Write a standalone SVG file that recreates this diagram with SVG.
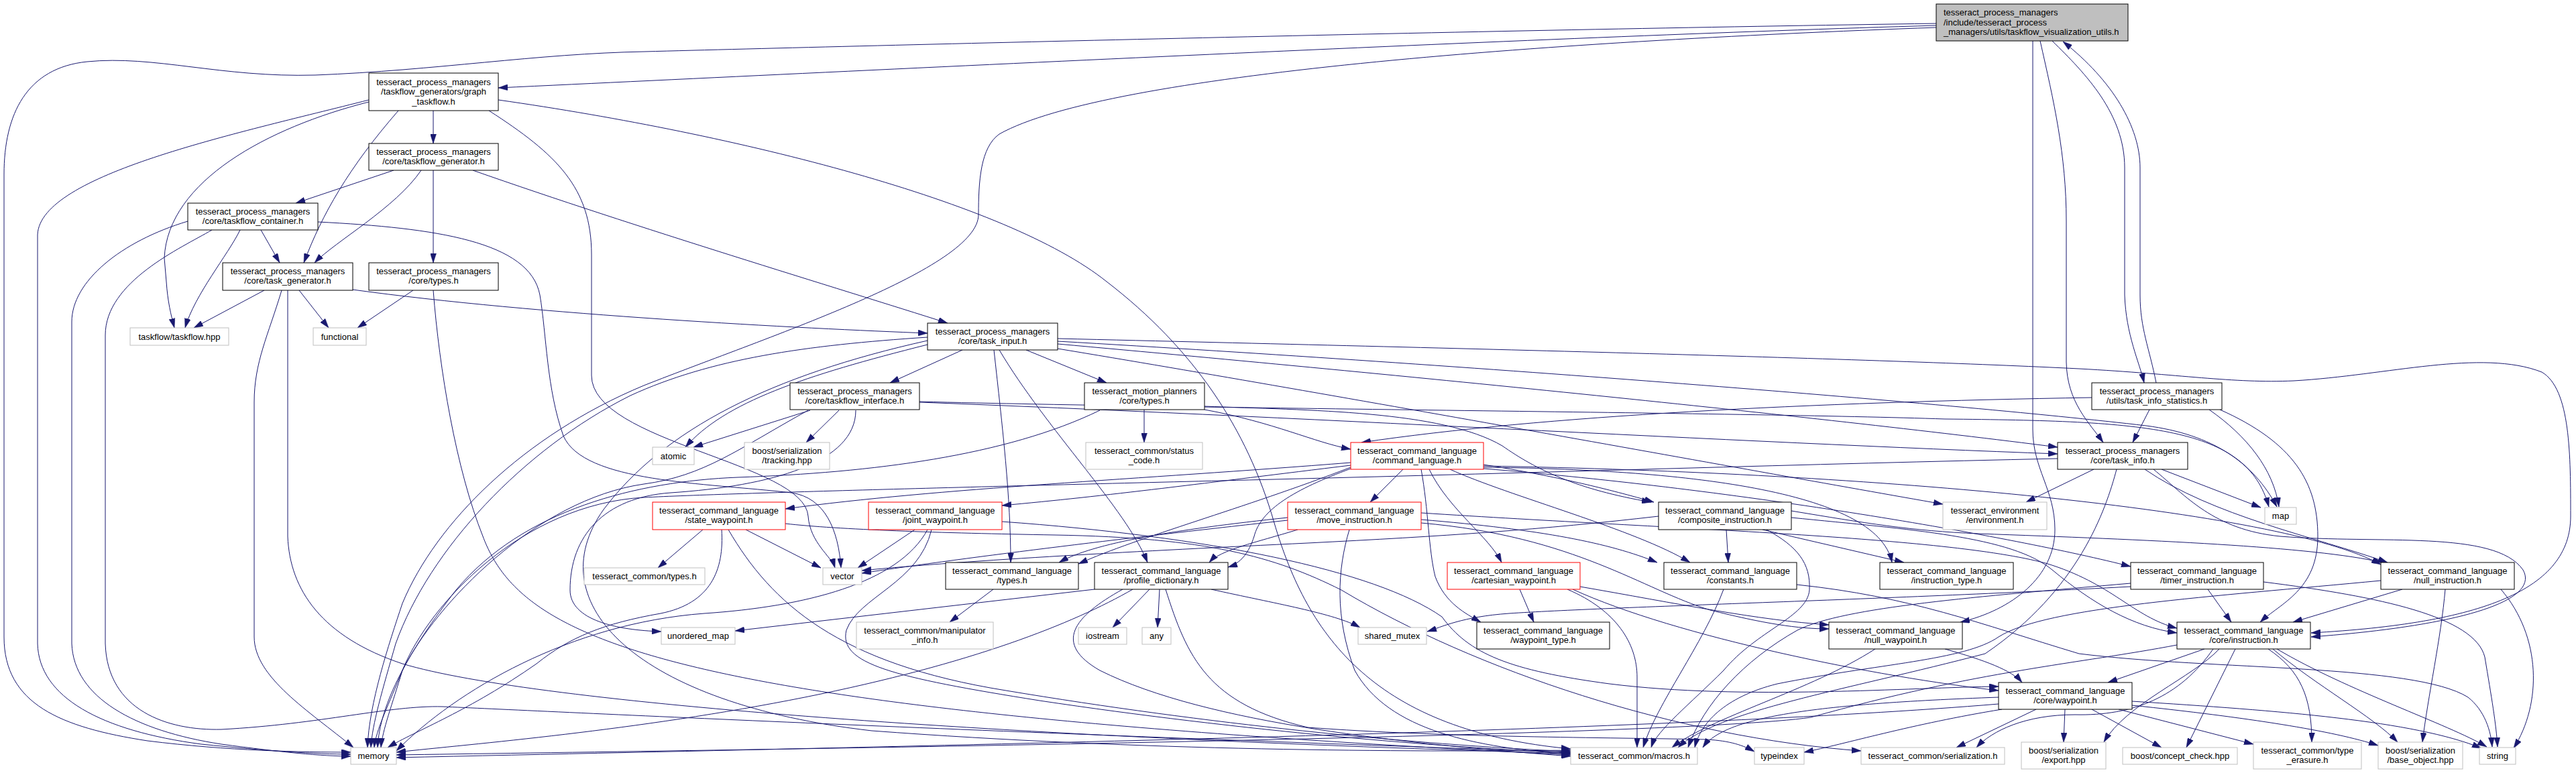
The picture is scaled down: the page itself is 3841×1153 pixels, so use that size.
<svg xmlns="http://www.w3.org/2000/svg" width="3841" height="1153" viewBox="0 0 3841 1153">
<defs>
<style>
.nd rect{fill:#fff;stroke:#000;stroke-width:1}
.ext rect{stroke:#bfbfbf}
.trunc rect{stroke:#ff0000}
.root rect{fill:#bfbfbf;stroke:#000}
text{font-family:"Liberation Sans",Arial,Helvetica,sans-serif;font-size:13px;fill:#000;text-anchor:middle}
.root text{text-anchor:start}
#edges path{fill:none;stroke:#191970;stroke-width:1;marker-end:url(#ah)}
</style>
<marker id="ah" viewBox="0 0 14 9" refX="14" refY="4.5" markerWidth="14" markerHeight="9" markerUnits="userSpaceOnUse" orient="auto"><path d="M0,0L14,4.5L0,9z" fill="#191970" stroke="#191970" stroke-width="0.5"/></marker>
</defs>
<rect x="0" y="0" width="3841" height="1153" fill="#fff"/>
<g id="edges">
<path d="M2887,38 C2300,55 1300,105 743,131"/>
<path d="M2887,35 C2200,45 1300,68 961,77 C800,80 650,105 470,112 C330,116 230,82 130,92 C40,101 6,170 6,260 L6,950 C6,1050 90,1085 220,1105 C340,1120 450,1122 523,1122"/>
<path d="M2887,41 C2300,62 1650,110 1490,200 C1462,220 1459,270 1459,320 C1459,400 1150,500 960,575 C780,650 650,780 600,900 C580,960 550,1050 548,1115"/>
<path d="M3031,61 L3031,640 C3031,700 3064,730 3064,790 C3064,860 3000,910 2923,928"/>
<path d="M3042,61 C3062,150 3081,230 3081,330 L3081,540 C3082,600 3115,630 3136,660"/>
<path d="M3060,61 C3110,110 3168,170 3168,250 L3168,440 C3170,500 3190,540 3197,571"/>
<path d="M3215,571 C3205,520 3191,490 3191,440 L3191,250 C3191,190 3150,120 3076,62"/>
<path d="M646,165 L646,214"/>
<path d="M594,165 C520,250 480,320 453,392"/>
<path d="M550,152 C400,190 250,270 245,385 L248,420 C250,450 255,470 260,489"/>
<path d="M550,149 C350,200 60,260 56,350 L56,960 C58,1040 150,1090 300,1110 C400,1120 470,1125 523,1125"/>
<path d="M743,149 C1100,200 1500,300 1650,420 C1780,520 1860,640 1900,780 C1950,950 2050,1090 2342,1117"/>
<path d="M729,165 C830,230 882,280 882,380 L882,560 C882,660 1200,690 1205,770 C1208,810 1240,830 1245,847"/>
<path d="M587,254 L441,303"/>
<path d="M628,254 C590,310 500,360 469,392"/>
<path d="M646,254 L646,392"/>
<path d="M705,254 C950,340 1250,430 1413,482"/>
<path d="M389,343 L417,392"/>
<path d="M358,343 C340,380 290,440 276,489"/>
<path d="M280,330 C180,360 107,420 107,480 L107,960 C110,1040 200,1090 330,1110 C420,1122 480,1128 523,1128"/>
<path d="M316,343 C270,370 157,420 157,500 L157,960 C160,1060 250,1090 330,1088 C480,1080 580,1052 660,1054 C800,1060 1400,1090 2342,1122"/>
<path d="M474,331 C650,340 790,360 805,440 C815,500 815,580 840,650 C870,720 1050,720 1180,735 C1230,742 1250,790 1254,847"/>
<path d="M394,433 L289,489"/>
<path d="M446,433 L490,489"/>
<path d="M526,432 C800,470 1200,490 1383,497"/>
<path d="M420,433 C400,500 379,540 379,600 L379,950 C379,1010 460,1060 527,1115"/>
<path d="M429,433 L429,800 C432,880 480,950 600,990 C800,1050 1500,1100 2342,1124"/>
<path d="M616,433 L533,489"/>
<path d="M646,433 C655,550 680,700 720,800 C780,960 1000,1060 2342,1126"/>
<path d="M1435,522 L1327,571"/>
<path d="M1530,522 L1650,571"/>
<path d="M1482,522 C1495,640 1507,740 1507,839"/>
<path d="M1490,522 C1560,640 1680,760 1711,839"/>
<path d="M1383,514 C1200,560 1080,600 1022,667"/>
<path d="M1383,503 C1200,515 1060,535 940,590 C780,670 640,820 590,960 C570,1030 555,1080 553,1115"/>
<path d="M1383,508 C1150,560 990,640 900,760 C800,900 950,1050 1300,1090 C1700,1120 2100,1122 2342,1119"/>
<path d="M1577,505 C2200,520 2800,535 3100,550 C3250,558 3330,572 3420,568 C3560,560 3700,520 3790,555 C3833,580 3833,680 3833,770 C3833,880 3700,930 3446,944"/>
<path d="M1577,509 C2200,545 2900,600 3200,635 C3300,648 3360,690 3395,756"/>
<path d="M1577,513 C2100,560 2700,620 3068,667"/>
<path d="M1577,520 C2000,590 2600,700 2897,752"/>
<path d="M1208,612 L1034,667"/>
<path d="M1251,612 L1202,660"/>
<path d="M1205,612 C1100,670 1050,710 960,722 C800,745 650,900 600,1000 C580,1050 560,1090 558,1115"/>
<path d="M1276,612 C1276,690 1150,725 1000,735 C900,742 850,800 850,880 C850,925 920,940 986,942"/>
<path d="M1371,600 C1900,620 2600,660 3068,677"/>
<path d="M1371,599 C1800,610 2600,615 2900,625 C3200,628 3350,635 3383,756"/>
<path d="M1706,611 L1706,660"/>
<path d="M1796,611 C1900,630 1960,660 2014,670"/>
<path d="M1796,606 C1950,612 2150,612 2240,665 C2290,700 2350,730 2462,749"/>
<path d="M1640,612 C1500,680 1300,705 1100,712 C950,718 780,760 680,880 C610,970 566,1050 563,1115"/>
<path d="M2014,690 C1700,715 1400,728 1171,759"/>
<path d="M2014,694 C1800,720 1650,740 1494,754"/>
<path d="M2092,700 L2043,749"/>
<path d="M2212,693 C2320,710 2400,730 2466,749"/>
<path d="M2131,700 C2160,760 2220,800 2239,839"/>
<path d="M2162,700 C2250,740 2440,790 2520,839"/>
<path d="M2119,700 C2130,760 2130,820 2140,860 C2155,900 2185,915 2208,928"/>
<path d="M2212,697 C2500,700 2800,730 2821,839"/>
<path d="M2212,695 C2800,705 3400,760 3550,842"/>
<path d="M2212,699 C2600,730 3000,800 3177,845"/>
<path d="M2014,697 C1850,760 1700,800 1608,841"/>
<path d="M2014,699 C1930,730 1880,760 1870,800 C1862,825 1850,840 1831,846"/>
<path d="M1048,790 L981,847"/>
<path d="M1112,790 L1224,847"/>
<path d="M1076,790 C1080,850 1060,900 985,915 C900,930 850,950 800,990 C700,1060 620,1090 578,1115"/>
<path d="M1086,790 C1150,900 1250,990 1500,1030 C1800,1080 2100,1110 2342,1121"/>
<path d="M1171,781 C1250,790 1400,795 1573,798 C1800,802 1900,830 2000,880 C2200,1000 2500,1100 2775,1120"/>
<path d="M1364,790 L1279,847"/>
<path d="M1383,790 C1340,870 1200,905 1050,915 C850,930 680,1030 591,1120"/>
<path d="M1389,790 C1370,870 1280,890 1262,940 C1250,990 1330,1010 1550,1045 C1850,1090 2150,1115 2342,1123"/>
<path d="M1494,778 C1800,800 2050,850 2150,920 C2190,975 2250,1000 2400,1020 C2600,1045 2850,1025 2980,1024"/>
<path d="M2119,775 C2300,790 2400,810 2471,839"/>
<path d="M2119,780 C2350,800 2450,880 2550,910 C2630,930 2680,938 2727,938"/>
<path d="M1920,772 C1750,790 1630,810 1579,839"/>
<path d="M1935,790 C1870,810 1820,820 1803,839"/>
<path d="M1920,776 C1700,800 1450,830 1285,855"/>
<path d="M2012,790 C1994,850 1990,920 2020,1000 C2070,1090 2200,1115 2342,1125"/>
<path d="M2119,765 C2500,790 2900,800 3050,840 C3150,870 3180,920 3246,937"/>
<path d="M2574,790 L2577,839"/>
<path d="M2628,790 L2839,839"/>
<path d="M2473,770 C2300,790 2150,800 1950,810 C1700,822 1450,835 1285,851"/>
<path d="M2634,790 C2680,815 2700,840 2698,880 C2695,920 2620,940 2570,1000 C2520,1050 2470,1090 2462,1115"/>
<path d="M2671,772 C2850,790 3000,800 3060,850 C3120,900 3180,935 3246,944"/>
<path d="M2671,762 C2780,780 2850,792 2950,796 C3200,805 3450,815 3552,839"/>
<path d="M2266,879 L2287,928"/>
<path d="M2337,879 C2410,910 2441,960 2441,1010 L2441,1115"/>
<path d="M2356,875 C2500,900 2620,925 2727,932"/>
<path d="M2345,879 C2500,950 2800,1010 2980,1030"/>
<path d="M2570,879 C2540,960 2470,1050 2450,1115"/>
<path d="M2679,872 C2850,890 2950,930 3100,975 C3300,1000 3600,990 3680,1040 C3705,1060 3714,1090 3716,1114"/>
<path d="M2900,968 C2960,985 3000,1000 3015,1018"/>
<path d="M2796,968 C2700,1030 2550,1070 2493,1115"/>
<path d="M3292,879 L3327,928"/>
<path d="M3177,870 C2950,890 2750,905 2680,940 C2600,985 2540,1050 2517,1115"/>
<path d="M3375,868 C3550,890 3690,920 3705,980 C3715,1040 3722,1080 3724,1114"/>
<path d="M3177,875 C2800,895 2400,905 2250,915 C2180,920 2150,935 2128,942"/>
<path d="M3582,879 L3419,928"/>
<path d="M3646,879 C3640,950 3620,1040 3612,1107"/>
<path d="M3729,879 C3790,950 3790,1050 3748,1116"/>
<path d="M3550,866 C3300,890 3050,905 2980,950 C2930,985 2800,990 2650,1020 C2570,1040 2535,1080 2527,1115"/>
<path d="M3287,968 L3143,1018"/>
<path d="M3309,968 C3270,1010 3170,1050 3137,1107"/>
<path d="M3333,968 L3260,1115"/>
<path d="M3382,968 C3430,1000 3447,1040 3447,1107"/>
<path d="M3389,968 C3450,1020 3540,1070 3575,1107"/>
<path d="M3395,968 C3500,1030 3650,1080 3708,1114"/>
<path d="M3300,968 C3250,1040 3180,1068 3094,1066 C3020,1066 2970,1090 2947,1115"/>
<path d="M3246,962 C3100,990 2950,1000 2700,1070 C2500,1100 1000,1120 591,1126"/>
<path d="M3036,1058 L2917,1115"/>
<path d="M3079,1058 L3077,1107"/>
<path d="M3119,1058 L3223,1115"/>
<path d="M3159,1058 L3360,1110"/>
<path d="M3179,1052 C3350,1070 3480,1090 3546,1112"/>
<path d="M3179,1046 C3400,1060 3600,1075 3700,1116"/>
<path d="M2980,1040 C2700,1050 2570,1070 2539,1115"/>
<path d="M2985,1058 C2850,1080 2750,1110 2690,1122"/>
<path d="M2980,1050 C2500,1090 1500,1110 591,1130"/>
<path d="M1632,879 L1096,941"/>
<path d="M1714,879 L1659,936"/>
<path d="M1729,879 L1726,936"/>
<path d="M1806,879 C1900,900 1990,915 2028,936"/>
<path d="M1689,879 C1600,930 1450,990 1200,1040 C950,1090 700,1110 591,1122"/>
<path d="M1674,879 C1600,920 1570,960 1640,1000 C1800,1080 2100,1110 2342,1128"/>
<path d="M1738,879 C1770,980 1800,1050 1950,1085 C2150,1100 2400,1100 2545,1103 C2580,1105 2600,1112 2616,1121"/>
<path d="M1481,879 L1416,928"/>
<path d="M3122,700 L3021,749"/>
<path d="M3223,700 L3371,757"/>
<path d="M3198,700 C3300,770 3450,800 3560,839"/>
<path d="M3211,700 C3260,740 3300,790 3400,800 C3550,812 3720,790 3762,850 C3790,900 3650,935 3446,950"/>
<path d="M3156,700 C3140,760 3100,880 2960,975 C2750,1030 2560,1060 2502,1115"/>
<path d="M3068,684 C2700,692 2300,705 1900,715 C1500,725 1100,735 960,742 C780,752 640,900 600,1000 C585,1050 570,1090 568,1115"/>
<path d="M3205,611 L3180,660"/>
<path d="M3294,611 C3350,650 3390,700 3398,756"/>
<path d="M3310,611 C3420,660 3456,720 3456,800 C3456,880 3400,900 3370,928"/>
<path d="M3119,593 C2700,600 2300,620 2030,660"/>
</g>
<g id="n_V" class="nd root"><rect x="2887" y="6" width="286" height="55"/><text x="2898" y="23">tesseract_process_managers</text><text x="2898" y="37.5">/include/tesseract_process</text><text x="2898" y="52">_managers/utils/taskflow_visualization_utils.h</text></g>
<g id="n_GT" class="nd"><rect x="550" y="109" width="193" height="56"/><text x="646.5" y="126.5">tesseract_process_managers</text><text x="646.5" y="141">/taskflow_generators/graph</text><text x="646.5" y="155.5">_taskflow.h</text></g>
<g id="n_TG" class="nd"><rect x="550" y="214" width="193" height="40"/><text x="646.5" y="231">tesseract_process_managers</text><text x="646.5" y="245">/core/taskflow_generator.h</text></g>
<g id="n_TC" class="nd"><rect x="280" y="303" width="194" height="40"/><text x="377" y="320">tesseract_process_managers</text><text x="377" y="334">/core/taskflow_container.h</text></g>
<g id="n_TKG" class="nd"><rect x="332" y="392" width="194" height="41"/><text x="429" y="409">tesseract_process_managers</text><text x="429" y="423">/core/task_generator.h</text></g>
<g id="n_PT" class="nd"><rect x="550" y="392" width="193" height="41"/><text x="646.5" y="409">tesseract_process_managers</text><text x="646.5" y="423">/core/types.h</text></g>
<g id="n_TFH" class="nd ext"><rect x="194" y="489" width="147" height="26"/><text x="267.5" y="506.5">taskflow/taskflow.hpp</text></g>
<g id="n_FUN" class="nd ext"><rect x="467" y="489" width="79" height="26"/><text x="506.5" y="506.5">functional</text></g>
<g id="n_TI" class="nd"><rect x="1383" y="482" width="194" height="40"/><text x="1480" y="499">tesseract_process_managers</text><text x="1480" y="513">/core/task_input.h</text></g>
<g id="n_TFI" class="nd"><rect x="1178" y="571" width="193" height="40"/><text x="1274.5" y="588">tesseract_process_managers</text><text x="1274.5" y="602">/core/taskflow_interface.h</text></g>
<g id="n_MPT" class="nd"><rect x="1617" y="571" width="179" height="40"/><text x="1706.5" y="588">tesseract_motion_planners</text><text x="1706.5" y="602">/core/types.h</text></g>
<g id="n_TIS" class="nd"><rect x="3119" y="571" width="194" height="40"/><text x="3216" y="588">tesseract_process_managers</text><text x="3216" y="602">/utils/task_info_statistics.h</text></g>
<g id="n_ATO" class="nd ext"><rect x="973" y="667" width="62" height="26"/><text x="1004" y="684.5">atomic</text></g>
<g id="n_BST" class="nd ext"><rect x="1110" y="660" width="127" height="40"/><text x="1173.5" y="677">boost/serialization</text><text x="1173.5" y="691">/tracking.hpp</text></g>
<g id="n_SC" class="nd ext"><rect x="1619" y="660" width="174" height="40"/><text x="1706" y="677">tesseract_common/status</text><text x="1706" y="691">_code.h</text></g>
<g id="n_CL" class="nd trunc"><rect x="2014" y="660" width="198" height="40"/><text x="2113" y="677">tesseract_command_language</text><text x="2113" y="691">/command_language.h</text></g>
<g id="n_TINFO" class="nd"><rect x="3068" y="660" width="194" height="40"/><text x="3165" y="677">tesseract_process_managers</text><text x="3165" y="691">/core/task_info.h</text></g>
<g id="n_SW" class="nd trunc"><rect x="973" y="749" width="198" height="41"/><text x="1072" y="766">tesseract_command_language</text><text x="1072" y="780">/state_waypoint.h</text></g>
<g id="n_JW" class="nd trunc"><rect x="1295" y="749" width="199" height="41"/><text x="1394.5" y="766">tesseract_command_language</text><text x="1394.5" y="780">/joint_waypoint.h</text></g>
<g id="n_MI" class="nd trunc"><rect x="1920" y="749" width="199" height="41"/><text x="2019.5" y="766">tesseract_command_language</text><text x="2019.5" y="780">/move_instruction.h</text></g>
<g id="n_CI" class="nd"><rect x="2473" y="749" width="198" height="41"/><text x="2572" y="766">tesseract_command_language</text><text x="2572" y="780">/composite_instruction.h</text></g>
<g id="n_ENV" class="nd ext"><rect x="2897" y="749" width="155" height="41"/><text x="2974.5" y="766">tesseract_environment</text><text x="2974.5" y="780">/environment.h</text></g>
<g id="n_MAP" class="nd ext"><rect x="3377" y="757" width="47" height="25"/><text x="3400.5" y="774">map</text></g>
<g id="n_CT" class="nd ext"><rect x="871" y="847" width="180" height="25"/><text x="961" y="864">tesseract_common/types.h</text></g>
<g id="n_VEC" class="nd ext"><rect x="1227" y="847" width="58" height="25"/><text x="1256" y="864">vector</text></g>
<g id="n_TYP" class="nd"><rect x="1410" y="839" width="198" height="40"/><text x="1509" y="856">tesseract_command_language</text><text x="1509" y="870">/types.h</text></g>
<g id="n_PD" class="nd"><rect x="1632" y="839" width="199" height="40"/><text x="1731.5" y="856">tesseract_command_language</text><text x="1731.5" y="870">/profile_dictionary.h</text></g>
<g id="n_CW" class="nd trunc"><rect x="2158" y="839" width="198" height="40"/><text x="2257" y="856">tesseract_command_language</text><text x="2257" y="870">/cartesian_waypoint.h</text></g>
<g id="n_CON" class="nd"><rect x="2481" y="839" width="198" height="40"/><text x="2580" y="856">tesseract_command_language</text><text x="2580" y="870">/constants.h</text></g>
<g id="n_IT" class="nd"><rect x="2803" y="839" width="199" height="40"/><text x="2902.5" y="856">tesseract_command_language</text><text x="2902.5" y="870">/instruction_type.h</text></g>
<g id="n_TIMER" class="nd"><rect x="3177" y="839" width="198" height="40"/><text x="3276" y="856">tesseract_command_language</text><text x="3276" y="870">/timer_instruction.h</text></g>
<g id="n_NI" class="nd"><rect x="3550" y="839" width="199" height="40"/><text x="3649.5" y="856">tesseract_command_language</text><text x="3649.5" y="870">/null_instruction.h</text></g>
<g id="n_UM" class="nd ext"><rect x="986" y="936" width="110" height="25"/><text x="1041" y="953">unordered_map</text></g>
<g id="n_MAN" class="nd ext"><rect x="1277" y="928" width="204" height="40"/><text x="1379" y="945">tesseract_common/manipulator</text><text x="1379" y="959">_info.h</text></g>
<g id="n_IOS" class="nd ext"><rect x="1608" y="936" width="72" height="25"/><text x="1644" y="953">iostream</text></g>
<g id="n_ANY" class="nd ext"><rect x="1703" y="936" width="43" height="25"/><text x="1724.5" y="953">any</text></g>
<g id="n_SM" class="nd ext"><rect x="2025" y="936" width="102" height="25"/><text x="2076" y="953">shared_mutex</text></g>
<g id="n_WT" class="nd"><rect x="2202" y="928" width="198" height="40"/><text x="2301" y="945">tesseract_command_language</text><text x="2301" y="959">/waypoint_type.h</text></g>
<g id="n_NW" class="nd"><rect x="2727" y="928" width="199" height="40"/><text x="2826.5" y="945">tesseract_command_language</text><text x="2826.5" y="959">/null_waypoint.h</text></g>
<g id="n_INS" class="nd"><rect x="3246" y="928" width="199" height="40"/><text x="3345.5" y="945">tesseract_command_language</text><text x="3345.5" y="959">/core/instruction.h</text></g>
<g id="n_WP" class="nd"><rect x="2980" y="1018" width="199" height="40"/><text x="3079.5" y="1035">tesseract_command_language</text><text x="3079.5" y="1049">/core/waypoint.h</text></g>
<g id="n_MEM" class="nd ext"><rect x="523" y="1115" width="68" height="25"/><text x="557" y="1132">memory</text></g>
<g id="n_MAC" class="nd ext"><rect x="2342" y="1115" width="189" height="25"/><text x="2436.5" y="1132">tesseract_common/macros.h</text></g>
<g id="n_TIX" class="nd ext"><rect x="2616" y="1115" width="74" height="25"/><text x="2653" y="1132">typeindex</text></g>
<g id="n_SER" class="nd ext"><rect x="2775" y="1115" width="214" height="25"/><text x="2882" y="1132">tesseract_common/serialization.h</text></g>
<g id="n_EXP" class="nd ext"><rect x="3014" y="1107" width="126" height="40"/><text x="3077" y="1124">boost/serialization</text><text x="3077" y="1138">/export.hpp</text></g>
<g id="n_CC" class="nd ext"><rect x="3165" y="1115" width="171" height="25"/><text x="3250.5" y="1132">boost/concept_check.hpp</text></g>
<g id="n_TE" class="nd ext"><rect x="3360" y="1107" width="161" height="40"/><text x="3440.5" y="1124">tesseract_common/type</text><text x="3440.5" y="1138">_erasure.h</text></g>
<g id="n_BO" class="nd ext"><rect x="3546" y="1107" width="126" height="40"/><text x="3609" y="1124">boost/serialization</text><text x="3609" y="1138">/base_object.hpp</text></g>
<g id="n_STR" class="nd ext"><rect x="3697" y="1115" width="54" height="25"/><text x="3724" y="1132">string</text></g>
</svg>
